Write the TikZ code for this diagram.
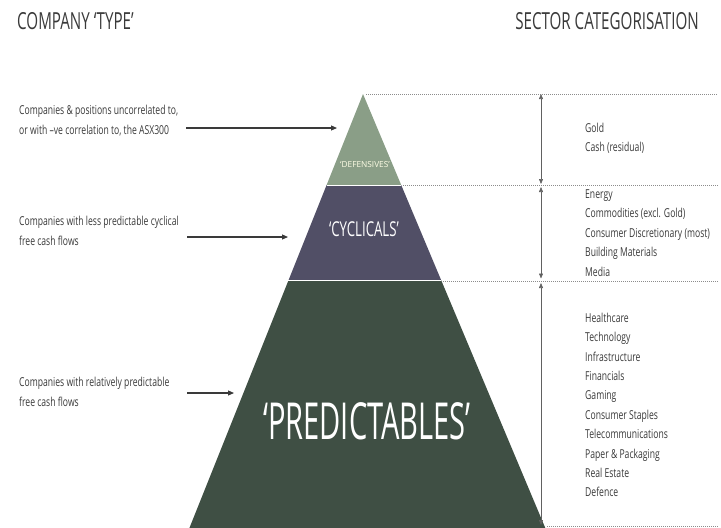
\documentclass[tikz,border=0pt]{standalone}
\usepackage{fontspec}
\setmainfont{Open Sans}
\newfontfamily\narrowfont[FakeStretch=0.70]{Open Sans}
\newfontfamily\titlefont[FakeStretch=0.645]{Open Sans}
\newfontfamily\bigfont[FakeStretch=0.57]{Open Sans}
\usetikzlibrary{arrows.meta}
\definecolor{sage}{HTML}{8A9E87}
\definecolor{slate}{HTML}{514F66}
\definecolor{forest}{HTML}{3F4F44}
\definecolor{ink}{HTML}{3A3A3A}
\definecolor{guide}{HTML}{8C8C8C}
\begin{document}
\begin{tikzpicture}[x=1pt,y=-1pt,
  heading/.style={inner sep=0pt,text=ink,font=\titlefont\fontsize{23.5}{25}\selectfont},
  note/.style={inner sep=0pt,anchor=west,align=left,text=ink,
    font=\narrowfont\fontsize{12.3}{19.4}\selectfont},
  pointer/.style={draw=ink,line width=1.1pt,-{Triangle[length=6pt,width=5pt]}},
  span/.style={draw=ink!80,line width=0.6pt,{Triangle[length=5pt,width=4pt]}-{Triangle[length=5pt,width=4pt]}},
  guideline/.style={draw=guide,line width=0.6pt,dash pattern=on 1pt off 1pt},
  tierlabel/.style={inner sep=0pt,text=white}]
\useasboundingbox (0,0) rectangle (721,528);

% pyramid corners
\coordinate (apex) at (363,94);
\coordinate (dl) at (326.6,185);
\coordinate (dr) at (401.2,185);
\coordinate (cl) at (288.4,280.5);
\coordinate (cr) at (441.3,280.5);
\coordinate (pl) at (189.4,528);
\coordinate (pr) at (545.3,528);

% tiers
\fill[sage] (apex) -- (dr) -- (dl) -- cycle;
\fill[slate] (dl) -- (dr) -- (cr) -- (cl) -- cycle;
\fill[forest] (cl) -- (cr) -- (pr) -- (pl) -- cycle;
\draw[white,line width=1pt] (dl) -- (dr);
\draw[white,line width=1.4pt] (cl) -- (cr);

% tier labels
\node[tierlabel,text=white!90!yellow,font=\fontsize{8.3}{9}\selectfont] (def) at (365,165) {‘DEFENSIVES’};
\node[tierlabel,font=\titlefont\fontsize{20.5}{22}\selectfont] (cyc) at (364,229) {‘CYCLICALS’};
\node[tierlabel,font=\bigfont\fontsize{51}{54}\selectfont] (pred) at (367,421) {‘PREDICTABLES’};

% headings
\node[heading,anchor=west] (typehead) at (17,21) {COMPANY ‘TYPE’};
\node[heading,anchor=east] (sectorhead) at (699,21) {SECTOR CATEGORISATION};

% guide lines to the right
\coordinate (g0a) at (366,94);   \coordinate (g0b) at (718,94);
\coordinate (g1a) at (403,185);  \coordinate (g1b) at (718,185);
\coordinate (g2a) at (443,281);  \coordinate (g2b) at (718,281);
\coordinate (g3a) at (547,526);  \coordinate (g3b) at (718,526);
\draw[guideline] (g0a) -- (g0b);
\draw[guideline] (g1a) -- (g1b);
\draw[guideline] (g2a) -- (g2b);
\draw[guideline] (g3a) -- (g3b);

% vertical range arrows
\coordinate (v0) at (541,94);
\coordinate (v1) at (541,184);
\coordinate (v2) at (541,187);
\coordinate (v3) at (541,278.5);
\coordinate (v4) at (541,283);
\coordinate (v5) at (541,525);
\draw[span] (v0) -- (v1);
\draw[span] (v2) -- (v3);
\draw[span] (v4) -- (v5);

% company type descriptions
\node[note] (t1) at (19,120.5) {Companies \& positions uncorrelated to,\\or with –ve correlation to, the ASX300};
\node[note] (t2) at (19,231) {Companies with less predictable cyclical\\free cash flows};
\node[note] (t3) at (19,392) {Companies with relatively predictable\\free cash flows};

\coordinate (a1s) at (186,128); \coordinate (a1e) at (337,128);
\coordinate (a2s) at (187,237); \coordinate (a2e) at (288,237);
\coordinate (a3s) at (187,393); \coordinate (a3e) at (234,393);
\draw[pointer] (a1s) -- (a1e);
\draw[pointer] (a2s) -- (a2e);
\draw[pointer] (a3s) -- (a3e);

% sector lists
\node[note] (s1) at (585,138) {Gold\\Cash (residual)};
\node[note] (s2) at (585,233) {Energy\\Commodities (excl. Gold)\\Consumer Discretionary (most)\\Building Materials\\Media};
\node[note] (s3) at (585,405) {Healthcare\\Technology\\Infrastructure\\Financials\\Gaming\\Consumer Staples\\Telecommunications\\Paper \& Packaging\\Real Estate\\Defence};
\end{tikzpicture}
\end{document}
